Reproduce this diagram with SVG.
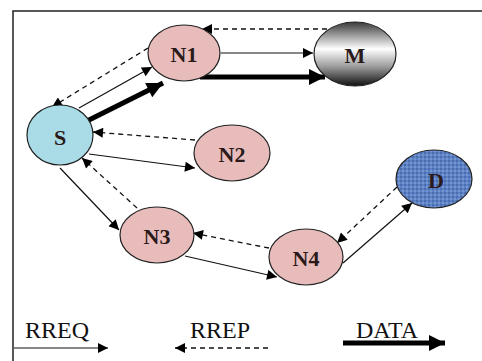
<svg xmlns="http://www.w3.org/2000/svg" width="482" height="361" viewBox="0 0 482 361">
  <style>
    .node { stroke: #222; stroke-width: 1.2; }
    .pink { fill: #e9bcbc; }
    .lbl { font-family: "Liberation Serif", "Times New Roman", serif; font-weight: bold; font-size: 22px; fill: #2a1a1a; text-anchor: middle; dominant-baseline: central; }
    .leg { font-family: "Liberation Serif", "Times New Roman", serif; font-size: 24px; fill: #111; }
    .req { stroke: #111; stroke-width: 1.2; fill: none; marker-end: url(#ah); }
    .rep { stroke: #111; stroke-width: 1.3; fill: none; stroke-dasharray: 5 4; marker-end: url(#ah); }
    .dat { stroke: #000; stroke-width: 5; fill: none; marker-end: url(#big); }
  </style>
  <defs>
    <marker id="ah" viewBox="0 0 10 10" refX="10" refY="5" markerWidth="12" markerHeight="10" markerUnits="userSpaceOnUse" orient="auto">
      <path d="M0,0 L10,5 L0,10 z" fill="#000"/>
    </marker>
    <marker id="big" viewBox="0 0 10 10" refX="10" refY="5" markerWidth="18" markerHeight="16" markerUnits="userSpaceOnUse" orient="auto">
      <path d="M0,0 L10,5 L0,10 z" fill="#000"/>
    </marker>
    <linearGradient id="mg" x1="0" y1="0" x2="0" y2="1">
      <stop offset="0" stop-color="#3a3a3a"/>
      <stop offset="0.42" stop-color="#ffffff"/>
      <stop offset="0.7" stop-color="#9a9a9a"/>
      <stop offset="1" stop-color="#101010"/>
    </linearGradient>
    <pattern id="weave" width="4" height="4" patternUnits="userSpaceOnUse">
      <rect width="4" height="4" fill="#5d82c6"/>
      <rect width="2" height="2" fill="#4a6db2"/>
      <rect x="2" y="2" width="2" height="2" fill="#7595d0"/>
    </pattern>
  </defs>

  <rect width="482" height="361" fill="#fff"/>
  <!-- frame -->
  <path d="M13,361 V11 H482" fill="none" stroke="#222" stroke-width="1.5"/>

  <g id="connectors">
    <!-- N1 <-> M -->
    <path class="rep" d="M327,29 H202"/>
    <path class="req" d="M221,53 H313"/>
    <path class="dat" d="M200,77 H325"/>
    <!-- S <-> N1 -->
    <path class="rep" d="M148,48 L52,107"/>
    <path class="req" d="M79,108 L152,67"/>
    <path class="dat" d="M87,121 L163,83"/>
    <!-- S <-> N2 -->
    <path class="rep" d="M195,140 L93,132"/>
    <path class="req" d="M89,154 L195,168"/>
    <!-- S <-> N3 -->
    <path class="rep" d="M137,208 L82,158"/>
    <path class="req" d="M60,168 L119,230"/>
    <!-- N3 <-> N4 -->
    <path class="rep" d="M269,248 L193,233"/>
    <path class="req" d="M185,256 L277,277"/>
    <!-- N4 <-> D -->
    <path class="rep" d="M397,187 L337,243"/>
    <path class="req" d="M343,263 L412,203"/>
  </g>

  <g id="N1"><ellipse class="node pink" cx="184" cy="53" rx="36" ry="28"/><text class="lbl" x="184" y="54">N1</text></g>
  <g id="M"><ellipse class="node" fill="url(#mg)" cx="355" cy="54" rx="41" ry="32"/><text class="lbl" x="355" y="55">M</text></g>
  <g id="S"><ellipse class="node" fill="#a9dce6" cx="60" cy="135" rx="33" ry="30"/><text class="lbl" x="60" y="137">S</text></g>
  <g id="N2"><ellipse class="node pink" cx="232" cy="153" rx="38" ry="28"/><text class="lbl" x="232" y="154">N2</text></g>
  <g id="D"><ellipse class="node" fill="url(#weave)" cx="434" cy="179" rx="38" ry="29"/><text class="lbl" x="436" y="180" fill="#111">D</text></g>
  <g id="N3"><ellipse class="node pink" cx="157" cy="235" rx="37" ry="28"/><text class="lbl" x="157" y="236">N3</text></g>
  <g id="N4"><ellipse class="node pink" cx="306" cy="257" rx="37" ry="28"/><text class="lbl" x="306" y="258">N4</text></g>

  <g id="legend">
    <text class="leg" x="25" y="338">RREQ</text>
    <path class="req" d="M14,348 H108"/>
    <text class="leg" x="190" y="338">RREP</text>
    <path class="rep" d="M268,348 H175"/>
    <text class="leg" x="356" y="338">DATA</text>
    <path class="dat" d="M343,343 H445"/>
  </g>
</svg>
